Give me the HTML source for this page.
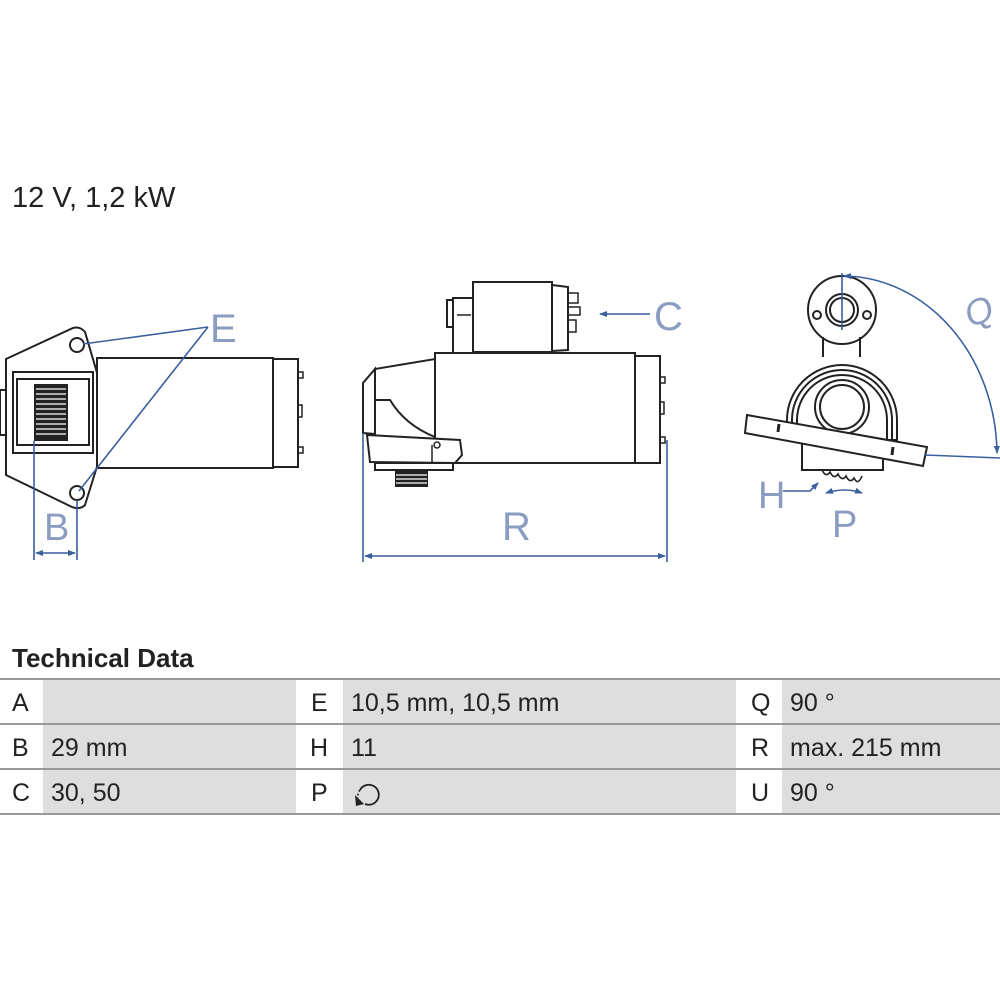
<!DOCTYPE html>
<html><head><meta charset="utf-8"><style>
html,body{margin:0;padding:0;background:#fff;}
svg{display:block;}
</style></head><body>
<svg width="1000" height="1000" viewBox="0 0 1000 1000" xmlns="http://www.w3.org/2000/svg" font-family="Liberation Sans, sans-serif">
<defs>
<marker id="ar" markerWidth="8" markerHeight="6" refX="7" refY="3" orient="auto" markerUnits="userSpaceOnUse"><path d="M0,0 L8,3 L0,6 z" fill="#3a5f9e"/></marker>
<marker id="ars" markerWidth="8" markerHeight="6" refX="7" refY="3" orient="auto-start-reverse" markerUnits="userSpaceOnUse"><path d="M0,0 L8,3 L0,6 z" fill="#3a5f9e"/></marker>
</defs>
<text x="12" y="207" font-size="29" fill="#222">12 V, 1,2 kW</text>

<!-- LEFT VIEW -->
<g fill="none" stroke="#222" stroke-width="2">
<path d="M6,359 L73,328 Q80,326 85,332 L100,383 L97,383 L97,457 L100,457 L85,505 Q80,510 72,507 L6,475 Z" fill="#fff"/>
<rect x="97" y="358" width="176" height="110" fill="#fff"/>
<rect x="273" y="359" width="25" height="108"/>
<rect x="298" y="372" width="5" height="6" stroke-width="1.5"/>
<rect x="298" y="405" width="4" height="12" stroke-width="1.5"/>
<rect x="298" y="447" width="5" height="6" stroke-width="1.5"/>
<rect x="0" y="390" width="6" height="45"/>
<rect x="13" y="372" width="80" height="81" fill="#fff"/>
<rect x="17" y="379" width="72" height="66"/>
<circle cx="77" cy="345" r="7"/>
<circle cx="77" cy="493" r="7"/>
</g>
<rect x="34" y="384" width="34" height="57" fill="#222"/>
<g stroke="#fff" stroke-width="1.3">
<line x1="36" y1="389" x2="66" y2="389"/><line x1="36" y1="394" x2="66" y2="394"/><line x1="36" y1="399" x2="66" y2="399"/><line x1="36" y1="404" x2="66" y2="404"/><line x1="36" y1="409" x2="66" y2="409"/><line x1="36" y1="414" x2="66" y2="414"/><line x1="36" y1="419" x2="66" y2="419"/><line x1="36" y1="424" x2="66" y2="424"/><line x1="36" y1="429" x2="66" y2="429"/><line x1="36" y1="434" x2="66" y2="434"/>
</g>
<g stroke="#3a5f9e" stroke-width="1.6" fill="none">
<line x1="208" y1="327" x2="83" y2="344"/>
<line x1="208" y1="327" x2="79" y2="491"/>
<line x1="34" y1="441" x2="34" y2="560"/>
<line x1="77" y1="500" x2="77" y2="560"/>
<line x1="36" y1="553" x2="75" y2="553" marker-start="url(#ars)" marker-end="url(#ar)"/>
</g>
<text x="210" y="342" font-size="40" fill="#8a9cc0">E</text>
<text x="44" y="540" font-size="38" fill="#8a9cc0">B</text>

<!-- MIDDLE VIEW -->
<g fill="none" stroke="#222" stroke-width="2">
<rect x="473" y="282" width="79" height="70" fill="#fff"/>
<path d="M552,285 L568,287 L568,350 L552,351"/>
<rect x="568" y="293" width="10" height="10" stroke-width="1.5"/>
<rect x="568" y="307" width="12" height="8" stroke-width="1.5"/>
<rect x="568" y="320" width="8" height="12" stroke-width="1.5"/>
<rect x="453" y="298" width="20" height="60" fill="#fff"/>
<rect x="447" y="300" width="6" height="27"/>
<line x1="457" y1="315" x2="471" y2="315" stroke-width="1.5"/>
<rect x="435" y="353" width="200" height="110" fill="#fff"/>
<rect x="635" y="356" width="25" height="107"/>
<rect x="660" y="377" width="5" height="6" stroke-width="1.5"/>
<rect x="660" y="402" width="4" height="12" stroke-width="1.5"/>
<rect x="660" y="437" width="5" height="6" stroke-width="1.5"/>
<path d="M375,369 L435,359 L435,437 Q405,425 390,400 L375,400 Z" fill="#fff"/>
<path d="M375,369 L363,383 L363,433 L375,434 Z"/>
<path d="M367,435 L460,440 L462,455 L455,463 L370,462 Z" fill="#fff"/>
<line x1="432" y1="445" x2="432" y2="462" stroke-width="1.5"/>
<circle cx="437" cy="445" r="3" stroke-width="1.5"/>
<rect x="375" y="463" width="78" height="7"/>
</g>
<rect x="395" y="470" width="33" height="17" fill="#222"/>
<g stroke="#fff" stroke-width="1.2"><line x1="396" y1="475" x2="427" y2="475"/><line x1="396" y1="479" x2="427" y2="479"/><line x1="396" y1="483" x2="427" y2="483"/></g>
<g stroke="#3a5f9e" stroke-width="1.6" fill="none">
<line x1="363" y1="433" x2="363" y2="562"/>
<line x1="667" y1="440" x2="667" y2="562"/>
<line x1="365" y1="556" x2="665" y2="556" marker-start="url(#ars)" marker-end="url(#ar)"/>
<line x1="650" y1="314" x2="600" y2="314" marker-end="url(#ar)"/>
</g>
<text x="502" y="540" font-size="40" fill="#8a9cc0">R</text>
<text x="654" y="330" font-size="40" fill="#8a9cc0">C</text>

<!-- RIGHT VIEW -->
<g fill="none" stroke="#222" stroke-width="2">
<circle cx="842" cy="310" r="34" fill="#fff"/>
<circle cx="842" cy="310" r="16"/>
<circle cx="842" cy="310" r="12"/>
<circle cx="817" cy="315" r="4"/>
<circle cx="867" cy="315" r="4"/>
<path d="M823,337 L823,357 M860,337 L860,357" />
<rect x="802" y="420" width="81" height="50" fill="#fff"/>
<path d="M787,420 A55,55 0 0 1 897,420 L897,440 L787,440 Z" fill="#fff"/>
<path d="M792,440 L792,420 A50,50 0 0 1 892,420 L892,440"/>
<path d="M797,440 L797,420 A45,45 0 0 1 887,420 L887,440"/>
<circle cx="842" cy="407" r="27" fill="#fff"/>
<circle cx="842" cy="407" r="22"/>
<path d="M747,415 L927,447 L923,466 L745,433 Z" fill="#fff"/>
<line x1="779" y1="424" x2="778" y2="432" stroke-width="3"/>
<line x1="893" y1="447" x2="892" y2="455" stroke-width="3"/>
<path d="M822,470 q4,8 8,2 q4,8 8,2 q4,8 8,2 q4,8 8,2 q4,8 8,-2" stroke-width="1.6"/>
</g>
<g stroke="#3a5f9e" stroke-width="1.6" fill="none">
<line x1="842" y1="273" x2="842" y2="330"/>
<path d="M844,276 A155,180 0 0 1 997,453" marker-start="url(#ars)" marker-end="url(#ar)"/>
<line x1="925" y1="455" x2="1000" y2="458"/>
<path d="M783,491 L810,491 L818,483" marker-end="url(#ar)"/>
<path d="M826,493 Q845,487 862,493" marker-start="url(#ars)" marker-end="url(#ar)"/>
</g>
<text x="965" y="325" font-size="36" fill="#8a9cc0" font-style="italic" transform="rotate(-20 975 312)">Q</text>
<text x="758" y="508" font-size="38" fill="#8a9cc0">H</text>
<text x="832" y="537" font-size="38" fill="#8a9cc0">P</text>

<!-- TABLE -->
<text x="12" y="667" font-size="26" font-weight="bold" fill="#222">Technical Data</text>
<g fill="#dedede">
<rect x="43" y="680" width="253" height="134"/>
<rect x="343" y="680" width="393" height="134"/>
<rect x="782" y="680" width="218" height="134"/>
</g>
<g stroke="#9a9a9a" stroke-width="2">
<line x1="0" y1="679" x2="1000" y2="679"/>
<line x1="0" y1="724" x2="1000" y2="724"/>
<line x1="0" y1="769" x2="1000" y2="769"/>
<line x1="0" y1="814" x2="1000" y2="814"/>
</g>
<g font-size="25" fill="#222">
<text x="12" y="711">A</text>
<text x="12" y="756">B</text><text x="51" y="756">29 mm</text>
<text x="12" y="801">C</text><text x="51" y="801">30, 50</text>
<text x="311" y="711">E</text><text x="351" y="711">10,5 mm, 10,5 mm</text>
<text x="310" y="756">H</text><text x="351" y="756">11</text>
<text x="311" y="801">P</text>
<text x="751" y="711">Q</text><text x="790" y="711">90 °</text>
<text x="751" y="756">R</text><text x="790" y="756">max. 215 mm</text>
<text x="751" y="801">U</text><text x="790" y="801">90 °</text>
</g>
<path d="M360,790 A10,10 0 1 1 365,804" fill="none" stroke="#222" stroke-width="1.8"/>
<path d="M360,790 A10,10 0 0 0 358,798" fill="none" stroke="#222" stroke-width="1.5" stroke-dasharray="2,2"/>
<path d="M355,795 L364,804 L356,806 Z" fill="#222"/>
</svg>
</body></html>
